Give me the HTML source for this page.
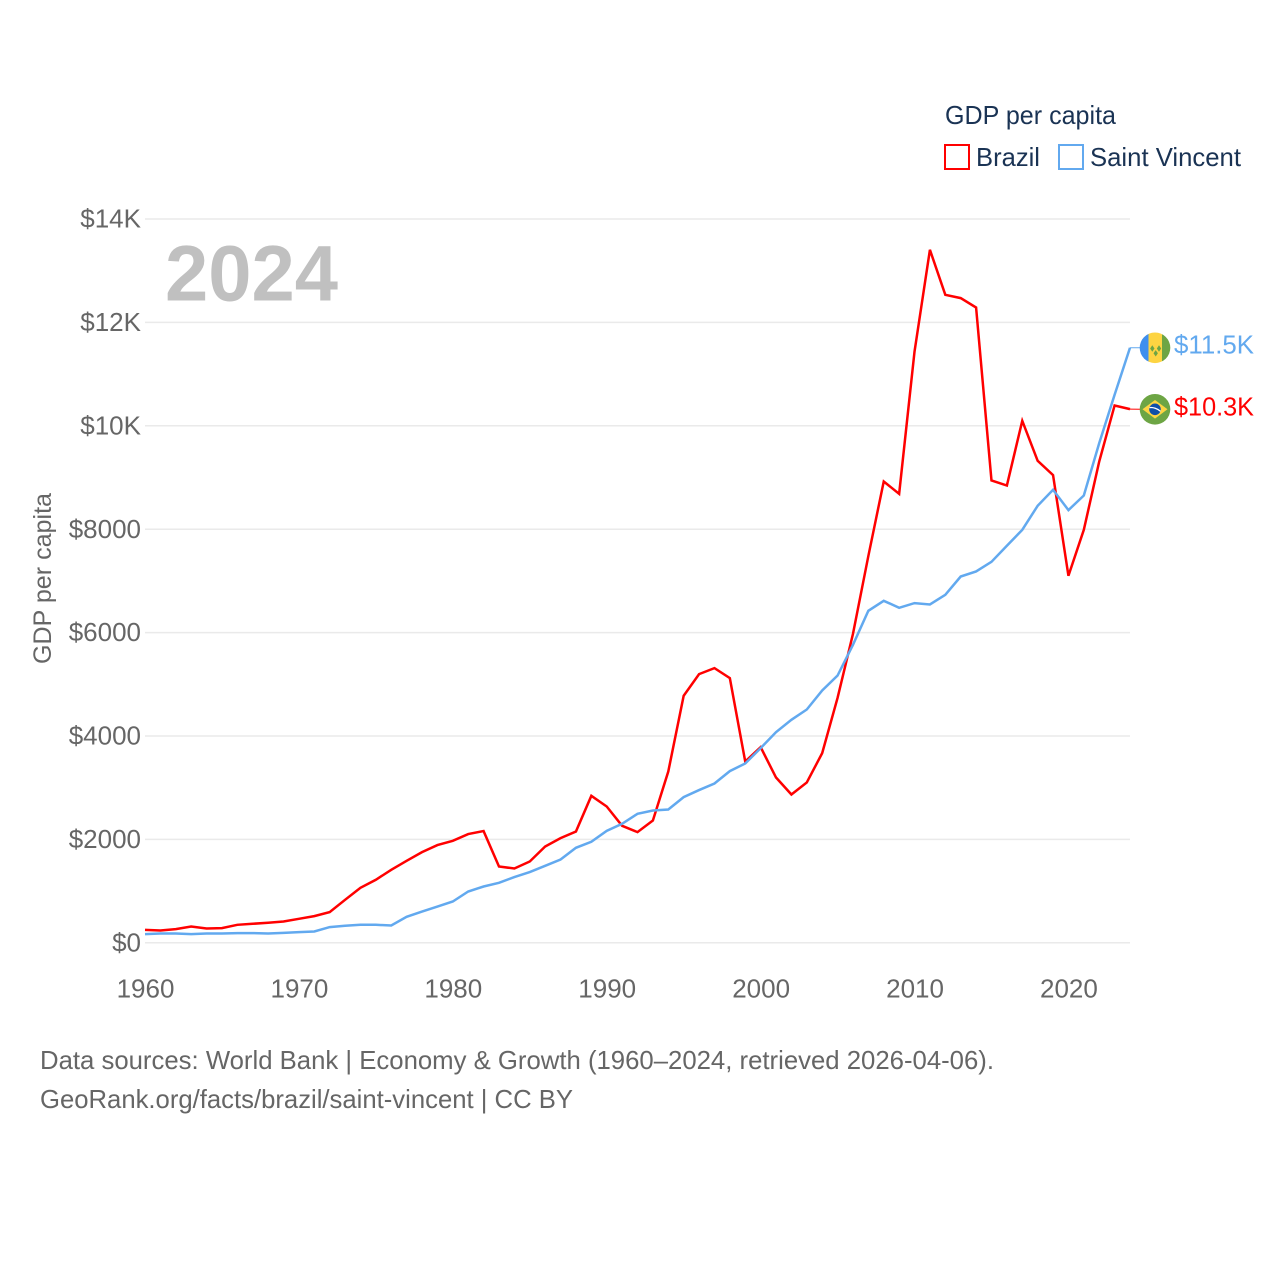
<!DOCTYPE html>
<html lang="en">
<head>
<meta charset="utf-8">
<title>GDP per capita: Brazil and Saint Vincent</title>
<style>
html,body{margin:0;padding:0;background:#fff;}
svg{display:block;font-family:"Liberation Sans",sans-serif;}
</style>
</head>
<body>
<svg id="chart" xmlns="http://www.w3.org/2000/svg" width="1280" height="1280" viewBox="0 0 1280 1280">
  <rect x="0" y="0" width="1280" height="1280" fill="#ffffff"/>
  <g id="grid"></g>
  <g id="yticks"></g>
  <g id="xticks"></g>
  <text x="165" y="300.500" font-size="79" font-weight="700" fill="#c0c0c0" textLength="173" lengthAdjust="spacingAndGlyphs">2024</text>
  <text transform="translate(51,664) rotate(-90)" font-size="25" fill="#666666" textLength="171" lengthAdjust="spacingAndGlyphs">GDP per capita</text>
  <g id="series"></g>
  <g id="endlabels"></g>

  <defs>
    <clipPath id="flag-clip-vc"><circle cx="1155" cy="347.800" r="15.300"/></clipPath>
    <clipPath id="flag-clip-br"><circle cx="1155" cy="409.300" r="15.300"/></clipPath>
  </defs>
  <g clip-path="url(#flag-clip-vc)">
    <rect x="1139" y="332" width="9.500" height="32" fill="#3f8fee"/>
    <rect x="1148.500" y="332" width="13.500" height="32" fill="#fdd442"/>
    <rect x="1162" y="332" width="9" height="32" fill="#6da544"/>
    <path d="M1152.300 345.300l2.200 3.200-2.200 3.200-2.200-3.200z M1159 345.300l2.200 3.200-2.200 3.200-2.200-3.200z M1155.700 350.100l2.200 3.200-2.200 3.200-2.200-3.200z" fill="#6da544"/>
  </g>
  <g clip-path="url(#flag-clip-br)">
    <rect x="1139" y="393" width="32" height="32" fill="#6da544"/>
    <path d="M1155 400L1167.500 409.300L1155 418.600L1142.500 409.300Z" fill="#fdd442"/>
    <circle cx="1155" cy="409.300" r="5.800" fill="#0f4fa8"/>
    <path d="M1149.600 407.600C1153 407.100 1157.500 408.500 1160.500 411.300" fill="none" stroke="#ffffff" stroke-width="1.300"/>
  </g>

  <g>
    <text x="945" y="124" font-size="26" fill="#1a3354" textLength="171" lengthAdjust="spacingAndGlyphs">GDP per capita</text>
    <g>
      <rect x="945" y="145" width="24" height="24" fill="#ffffff" stroke="#ff0000" stroke-width="2"/>
      <text x="976" y="166" font-size="26" fill="#1a3354" textLength="64" lengthAdjust="spacingAndGlyphs">Brazil</text>
    </g>
    <g>
      <rect x="1059" y="145" width="24" height="24" fill="#ffffff" stroke="#62a9ef" stroke-width="2"/>
      <text x="1090" y="166" font-size="26" fill="#1a3354" textLength="151" lengthAdjust="spacingAndGlyphs">Saint Vincent</text>
    </g>
  </g>

  <text x="40" y="1069" font-size="26" fill="#666666" textLength="954" lengthAdjust="spacingAndGlyphs">Data sources: World Bank | Economy &amp; Growth (1960–2024, retrieved 2026-04-06).</text>
  <text x="40" y="1108" font-size="26" fill="#666666" textLength="533" lengthAdjust="spacingAndGlyphs">GeoRank.org/facts/brazil/saint-vincent | CC BY</text>
</svg>
<script>
const startYear = 1960;
const brazilValues = [251,238,265,315,277,284,348,368,387,412,464,516,594,832,1064,1219,1412,1586,1754,1890,1973,2103,2161,1476,1437,1573,1863,2025,2153,2843,2636,2263,2141,2366,3313,4778,5197,5313,5120,3507,3785,3197,2868,3101,3669,4739,5975,7483,8923,8685,11437,13404,12534,12470,12288,8942,8845,10097,9323,9046,7099,7988,9309,10393,10323];
const saintVincentValues = [168,180,180,168,180,180,188,188,180,193,207,219,304,329,348,348,335,503,605,702,799,992,1089,1161,1271,1368,1489,1611,1838,1954,2166,2302,2495,2559,2578,2818,2954,3081,3321,3468,3766,4075,4313,4513,4880,5170,5764,6422,6615,6480,6571,6544,6731,7085,7182,7369,7679,7988,8453,8762,8369,8652,9665,10600,11509];
const yTickValues = [0,2000,4000,6000,8000,10000,12000,14000];
const yTickLabels = ["$0","$2000","$4000","$6000","$8000","$10K","$12K","$14K"];
const xTickValues = [1960,1970,1980,1990,2000,2010,2020];
const xTickLabels = ["1960","1970","1980","1990","2000","2010","2020"];
const brazilEndLabel = "$10.3K";
const saintVincentEndLabel = "$11.5K";

const NS = "http://www.w3.org/2000/svg";
const plotLeft = 145, plotRight = 1130, plotBottom = 942.8, plotTop = 219;
const lastYear = 2024, yMax = 14000;
function xScale(year) { return plotLeft + (year - startYear) * (plotRight - plotLeft) / (lastYear - startYear); }
function yScale(value) { return plotBottom - value * (plotBottom - plotTop) / yMax; }
function make(tag, attrs, text) {
  const el = document.createElementNS(NS, tag);
  for (const k in attrs) el.setAttribute(k, attrs[k]);
  if (text !== undefined) el.textContent = text;
  return el;
}

const grid = document.getElementById("grid");
const yticks = document.getElementById("yticks");
yTickValues.forEach(function (v, i) {
  const line = make("line", { x1: plotLeft, x2: plotRight, y1: yScale(v), y2: yScale(v), stroke: "#eaeaea", "stroke-width": 1.5 });
  
  
  grid.appendChild(line);
  const label = make("text", { x: 141, y: yScale(v) + 8.6, "text-anchor": "end", "font-size": 26, fill: "#666666" }, yTickLabels[i]);
  
  
  yticks.appendChild(label);
});

const xticks = document.getElementById("xticks");
xTickValues.forEach(function (v, i) {
  const label = make("text", { x: xScale(v) + 0.5, y: 997.5, "text-anchor": "middle", "font-size": 26, fill: "#666666" }, xTickLabels[i]);
  
  
  xticks.appendChild(label);
});

function linePoints(values) {
  return values.map(function (v, i) { return xScale(startYear + i).toFixed(2) + "," + yScale(v).toFixed(2); }).join(" ");
}
const series = document.getElementById("series");

const brazilLine = make("polyline", { points: linePoints(brazilValues), fill: "none", stroke: "#ff0000", "stroke-width": 2.5, "stroke-linejoin": "miter" });


series.appendChild(brazilLine);

const saintVincentLine = make("polyline", { points: linePoints(saintVincentValues), fill: "none", stroke: "#62a9ef", "stroke-width": 2.5, "stroke-linejoin": "miter" });


series.appendChild(saintVincentLine);

const endlabels = document.getElementById("endlabels");
const brazilLast = brazilValues[brazilValues.length - 1];
const saintVincentLast = saintVincentValues[saintVincentValues.length - 1];

const brazilConnector = make("line", { x1: plotRight, x2: 1141, y1: yScale(brazilLast), y2: 409.3, stroke: "#ff0000", "stroke-width": 1 });


endlabels.appendChild(brazilConnector);

const saintVincentConnector = make("line", { x1: plotRight, x2: 1141, y1: yScale(saintVincentLast), y2: 347.8, stroke: "#62a9ef", "stroke-width": 1 });


endlabels.appendChild(saintVincentConnector);

const saintVincentValueLabel = make("text", { x: 1174, y: 353.5, "font-size": 26, fill: "#62a9ef", textLength: 80, lengthAdjust: "spacingAndGlyphs" }, saintVincentEndLabel);


endlabels.appendChild(saintVincentValueLabel);

const brazilValueLabel = make("text", { x: 1174, y: 415.5, "font-size": 26, fill: "#ff0000", textLength: 80, lengthAdjust: "spacingAndGlyphs" }, brazilEndLabel);


endlabels.appendChild(brazilValueLabel);
</script>
</body>
</html>
